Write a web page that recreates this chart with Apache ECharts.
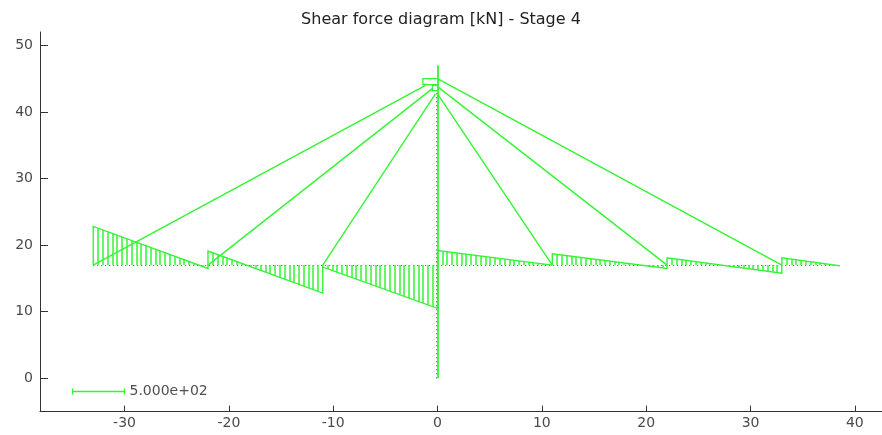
<!DOCTYPE html>
<html>
<head>
<meta charset="utf-8">
<script src="https://cdn.jsdelivr.net/npm/echarts@6/dist/echarts.min.js"></script>
<style>html,body{margin:0;padding:0;background:#fff}#c{width:882px;height:435px}</style>
</head>
<body>
<div id="c"></div>
<script>
// ---- data ----
const titleText = 'Shear force diagram [kN] - Stage 4';
const xTicks = [-30, -20, -10, 0, 10, 20, 30, 40];
const yTicks = [0, 10, 20, 30, 40, 50];
const deckLevel = 17;
const segStartX = [-33, -22, -11, 0, 11, 22, 33];
const segEndX   = [-22, -11, 0, 11, 22, 33, 38.5];
const shearStart = [22.8, 19.1, 16.7, 19.2, 18.7, 18.1, 18.1];
const shearEnd   = [16.5, 12.8, 10.5, 17.0, 16.5, 15.8, 16.9];
const cableDeckX = [-33, -22, -11, 11, 22, 33];
const cableTopX  = [-1.15, -0.5, -0.2, 0, 0, 0];
const cableTopY  = [44.0, 43.5, 42.7, 42.7, 43.8, 45.0];
const towerBase = 0, towerTop = 47, towerDiagTop = 43;
const towerBoxX = [[-1.4, 0], [-0.5, 0]];
const towerBoxY = [[44.1, 45.0], [43.2, 44.0]];
const scaleBarX = [-35, -30];
const scaleBarY = -2;
const scaleLabel = '5.000e+02';

// ---- build ----
const green = '#33f533';
const hatchStep = 11 / 24;
const outlines = [], hatch = [];
for (let i = 0; i < segStartX.length; i++) {
  const x0 = segStartX[i], x1 = segEndX[i], y0 = shearStart[i], y1 = shearEnd[i];
  outlines.push({coords: [[x0, deckLevel], [x0, y0], [x1, y1], [x1, deckLevel]]});
  const n = Math.round((x1 - x0) / hatchStep);
  for (let k = 1; k < n; k++) {
    const t = k / n;
    const x = x0 + (x1 - x0) * t;
    hatch.push({coords: [[x, deckLevel], [x, y0 + (y1 - y0) * t]]});
  }
}
const cables = cableDeckX.map((x, i) => ({coords: [[x, deckLevel], [cableTopX[i], cableTopY[i]]]}));
const boxes = towerBoxX.map((bx, i) => ({coords: [[bx[1], towerBoxY[i][0]], [bx[0], towerBoxY[i][0]], [bx[0], towerBoxY[i][1]], [bx[1], towerBoxY[i][1]]]}));
const tick = 0.45;
const scaleBar = [
  {coords: [[scaleBarX[0], scaleBarY], [scaleBarX[1], scaleBarY]]},
  {coords: [[scaleBarX[0], scaleBarY - tick], [scaleBarX[0], scaleBarY + tick]]},
  {coords: [[scaleBarX[1], scaleBarY - tick], [scaleBarX[1], scaleBarY + tick]]}
];

const font = 'DejaVu Sans, Liberation Sans, Arial, sans-serif';
const chart = echarts.init(document.getElementById('c'), null, {renderer: 'canvas'});
chart.setOption({
  animation: false,
  backgroundColor: '#fff',
  title: {text: titleText, left: 'center', top: 7,
    textStyle: {fontSize: 16, fontWeight: 'normal', color: '#222', fontFamily: font}},
  grid: {left: 40, right: 0, top: 32, bottom: 23.4, containLabel: false},
  xAxis: {type: 'value', min: -38.1, max: 42.6,
    axisLine: {onZero: false, lineStyle: {color: '#333', width: 1}},
    axisTick: {inside: true, length: 6, customValues: xTicks, lineStyle: {color: '#333'}},
    axisLabel: {customValues: xTicks, color: '#4a4a4a', fontSize: 14, margin: 5, fontFamily: font},
    splitLine: {show: false}},
  yAxis: {type: 'value', min: -5, max: 52,
    axisLine: {show: true, onZero: false, lineStyle: {color: '#333', width: 1}},
    axisTick: {show: true, inside: true, length: 8, customValues: yTicks, lineStyle: {color: '#333'}},
    axisLabel: {customValues: yTicks, color: '#4a4a4a', fontSize: 14, margin: 7, fontFamily: font},
    splitLine: {show: false}},
  series: [
    {type: 'lines', coordinateSystem: 'cartesian2d', polyline: false, silent: true, z: 1,
     lineStyle: {color: '#555', width: 1, type: [1, 3], opacity: 1},
     data: [{coords: [[segStartX[0], deckLevel], [segEndX[segEndX.length - 1], deckLevel]]}]},
    {type: 'lines', coordinateSystem: 'cartesian2d', polyline: false, silent: true, z: 2,
     lineStyle: {color: green, width: 1.5, opacity: 1}, data: hatch},
    {type: 'lines', coordinateSystem: 'cartesian2d', polyline: true, silent: true, z: 3,
     lineStyle: {color: green, width: 1.4, opacity: 1}, data: outlines},
    {type: 'lines', coordinateSystem: 'cartesian2d', polyline: false, silent: true, z: 3,
     lineStyle: {color: green, width: 1.4, opacity: 1}, data: cables},
    {type: 'lines', coordinateSystem: 'cartesian2d', polyline: false, silent: true, z: 3,
     lineStyle: {color: green, width: 1.8, opacity: 1},
     data: [{coords: [[0, towerBase], [0, towerTop]]}]},
    {type: 'lines', coordinateSystem: 'cartesian2d', polyline: true, silent: true, z: 3,
     lineStyle: {color: green, width: 1.3, opacity: 1}, data: boxes},
    {type: 'lines', coordinateSystem: 'cartesian2d', polyline: false, silent: true, z: 4,
     lineStyle: {color: '#555', width: 1, type: [1, 3], opacity: 1},
     data: [{coords: [[-0.12, towerBase], [-0.12, towerDiagTop]]}]},
    {type: 'lines', coordinateSystem: 'cartesian2d', polyline: false, silent: true, z: 3,
     lineStyle: {color: green, width: 1.3, opacity: 1}, data: scaleBar},
    {type: 'scatter', symbolSize: 0, silent: true, z: 5,
     data: [[scaleBarX[1], scaleBarY]],
     label: {show: true, position: 'right', distance: 5, formatter: scaleLabel,
       color: '#222', fontSize: 14, fontFamily: font}}
  ]
});
</script>
</body>
</html>
